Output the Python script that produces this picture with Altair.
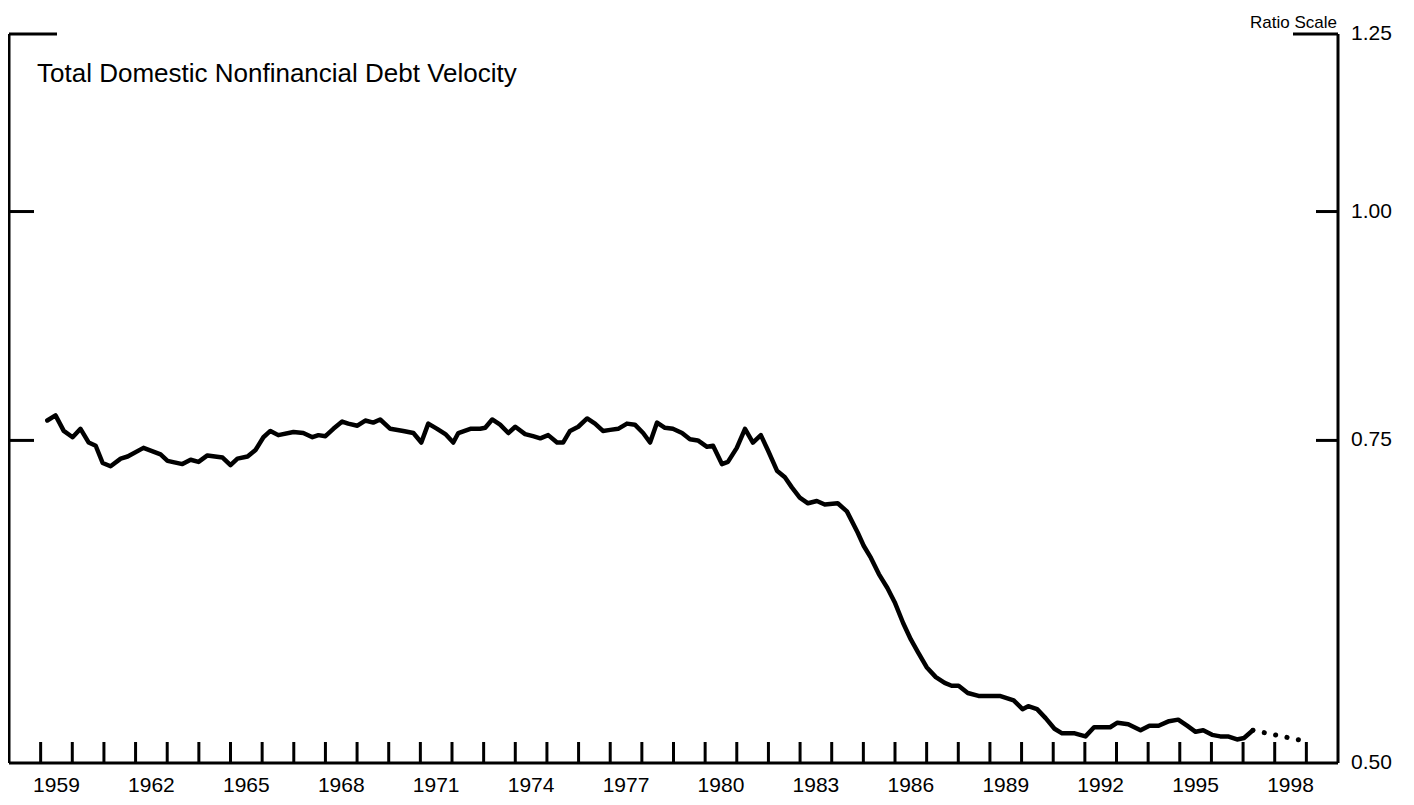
import altair as alt
import pandas as pd

FONT = "Liberation Sans"

# Quarterly readings (decimal year, velocity ratio)
years = [1959.21,1959.47,1959.73,1960.01,1960.26,1960.52,1960.74,1960.96,1961.21,1961.53,
         1961.75,1962.25,1962.79,1963.01,1963.48,1963.74,1963.99,1964.27,1964.75,1965.00,
         1965.22,1965.54,1965.79,1966.04,1966.26,1966.51,1966.99,1967.30,1967.59,1967.78,
         1968.00,1968.25,1968.53,1968.72,1969.01,1969.26,1969.51,1969.73,1970.05,1970.46,
         1970.78,1971.03,1971.25,1971.53,1971.79,1972.04,1972.20,1972.58,1972.89,1973.05,
         1973.27,1973.52,1973.78,1974.00,1974.31,1974.56,1974.79,1975.04,1975.32,1975.51,
         1975.73,1975.99,1976.27,1976.52,1976.77,1977.00,1977.25,1977.53,1977.78,1978.04,
         1978.26,1978.48,1978.73,1978.98,1979.27,1979.52,1979.77,1980.06,1980.25,1980.53,
         1980.72,1981.00,1981.26,1981.51,1981.76,1981.98,1982.27,1982.52,1982.74,1982.99,
         1983.25,1983.53,1983.78,1984.19,1984.48,1984.82,1985.01,1985.24,1985.49,1985.76,
         1985.99,1986.26,1986.50,1986.72,1987.00,1987.29,1987.57,1987.79,1988.01,1988.30,
         1988.64,1989.31,1989.75,1990.03,1990.21,1990.49,1990.76,1991.04,1991.28,1991.68,
         1992.02,1992.29,1992.58,1992.80,1993.03,1993.37,1993.76,1994.04,1994.33,1994.66,
         1994.95,1995.23,1995.50,1995.74,1996.02,1996.28,1996.52,1996.81,1997.03,1997.31]
values = [0.769,0.774,0.759,0.753,0.761,0.748,0.745,0.729,0.726,0.733,
          0.735,0.743,0.737,0.731,0.728,0.732,0.730,0.736,0.734,0.727,
          0.733,0.735,0.741,0.753,0.759,0.755,0.758,0.757,0.753,0.755,
          0.754,0.761,0.768,0.766,0.764,0.769,0.767,0.770,0.761,0.759,
          0.757,0.748,0.766,0.761,0.756,0.748,0.757,0.761,0.761,0.762,
          0.770,0.765,0.757,0.763,0.756,0.754,0.752,0.755,0.748,0.748,
          0.759,0.763,0.771,0.766,0.759,0.760,0.761,0.766,0.765,0.757,
          0.748,0.767,0.762,0.761,0.757,0.751,0.750,0.744,0.745,0.728,
          0.730,0.743,0.761,0.748,0.755,0.741,0.722,0.716,0.707,0.698,
          0.693,0.695,0.692,0.693,0.686,0.668,0.657,0.647,0.634,0.623,
          0.612,0.596,0.584,0.575,0.564,0.557,0.553,0.551,0.551,0.546,
          0.544,0.544,0.541,0.535,0.537,0.535,0.529,0.522,0.519,0.519,
          0.517,0.523,0.523,0.523,0.526,0.525,0.521,0.524,0.524,0.527,
          0.528,0.524,0.520,0.521,0.518,0.517,0.517,0.515,0.516,0.521]

# Projection (dotted)
proj_years = [1997.31, 1998.0, 1998.95]
proj_values = [0.521, 0.518, 0.514]

tick_years = list(range(1959, 2000))
label_years = list(range(1959, 1999, 3))
y_ticks = [0.50, 0.75, 1.00, 1.25]
inner_ticks = [0.75, 1.00]

title_text = "Total Domestic Nonfinancial Debt Velocity"
scale_text = "Ratio Scale"

W, H = 1329, 729
LW = 3

x_scale = alt.Scale(domain=[1958, 2000], nice=False, zero=False)
y_scale = alt.Scale(type="log", domain=[0.5, 1.25], nice=False)

df = pd.DataFrame({"year": years, "value": values})
pdf = pd.DataFrame({"year": proj_years, "value": proj_values})

line = alt.Chart(df).mark_line(color="black", strokeWidth=4.5, strokeJoin="round", strokeCap="round").encode(
    x=alt.X("year:Q", scale=x_scale, axis=None),
    y=alt.Y("value:Q", scale=y_scale, axis=None),
)

proj = alt.Chart(pdf).mark_line(color="black", strokeWidth=5, strokeCap="round",
                                strokeDash=[0.1, 11.5]).encode(
    x=alt.X("year:Q", scale=x_scale, axis=None),
    y=alt.Y("value:Q", scale=y_scale, axis=None),
)

frame_df = pd.DataFrame({"k": [0]})
left_line = alt.Chart(frame_df).mark_rule(color="black", strokeWidth=LW).encode(
    x=alt.value(0), y=alt.value(0), y2=alt.value(H))
right_line = alt.Chart(frame_df).mark_rule(color="black", strokeWidth=LW).encode(
    x=alt.value(W), y=alt.value(0), y2=alt.value(H))
bottom_line = alt.Chart(frame_df).mark_rule(color="black", strokeWidth=LW).encode(
    x=alt.value(0), x2=alt.value(W), y=alt.value(H))

top_df = pd.DataFrame({"v": [1.25]})
top_left = alt.Chart(top_df).mark_rule(color="black", strokeWidth=LW).encode(
    y=alt.Y("v:Q", scale=y_scale, axis=None), x=alt.value(0), x2=alt.value(48))
top_right = alt.Chart(top_df).mark_rule(color="black", strokeWidth=LW).encode(
    y=alt.Y("v:Q", scale=y_scale, axis=None), x=alt.value(W - 45), x2=alt.value(W))

inner_df = pd.DataFrame({"v": inner_ticks})
ticks_left = alt.Chart(inner_df).mark_rule(color="black", strokeWidth=LW).encode(
    y=alt.Y("v:Q", scale=y_scale, axis=None), x=alt.value(0), x2=alt.value(25))
ticks_right = alt.Chart(inner_df).mark_rule(color="black", strokeWidth=LW).encode(
    y=alt.Y("v:Q", scale=y_scale, axis=None), x=alt.value(W - 22), x2=alt.value(W))

year_df = pd.DataFrame({"year": tick_years})
year_ticks = alt.Chart(year_df).mark_rule(color="black", strokeWidth=LW).encode(
    x=alt.X("year:Q", scale=x_scale, axis=None), y=alt.value(H), y2=alt.value(H - 21))

# Year labels, centred in each labelled year
xlab_df = pd.DataFrame({"pos": [y + 0.5 for y in label_years],
                        "lab": [str(y) for y in label_years]})
x_labels = alt.Chart(xlab_df).mark_text(
    align="center", baseline="alphabetic", font=FONT, fontSize=21, color="black").encode(
    x=alt.X("pos:Q", scale=x_scale, axis=None), y=alt.value(H + 29), text="lab:N")

# Ratio-scale labels on the right
ylab_df = pd.DataFrame({"v": y_ticks, "lab": [f"{v:.2f}" for v in y_ticks]})
y_labels = alt.Chart(ylab_df).mark_text(
    align="left", baseline="middle", font=FONT, fontSize=21, color="black").encode(
    y=alt.Y("v:Q", scale=y_scale, axis=None), x=alt.value(W + 13), text="lab:N")

title = alt.Chart(pd.DataFrame({"t": [title_text]})).mark_text(
    align="left", baseline="alphabetic", font=FONT, fontSize=26, color="black").encode(
    text="t:N", x=alt.value(28), y=alt.value(48))
ratio = alt.Chart(pd.DataFrame({"t": [scale_text]})).mark_text(
    align="right", baseline="alphabetic", font=FONT, fontSize=17, color="black").encode(
    text="t:N", x=alt.value(W - 1), y=alt.value(-6))

chart = alt.layer(
    line, proj, left_line, right_line, bottom_line, top_left, top_right,
    ticks_left, ticks_right, year_ticks, x_labels, y_labels, title, ratio
).properties(
    width=W, height=H,
    background="white",
    autosize=alt.AutoSizeParams(type="none"),
    padding={"left": 1, "top": 26, "right": 64, "bottom": 34},
).configure_view(stroke=None)

chart.save("out.html", embed_options={"renderer": "svg", "actions": False})
